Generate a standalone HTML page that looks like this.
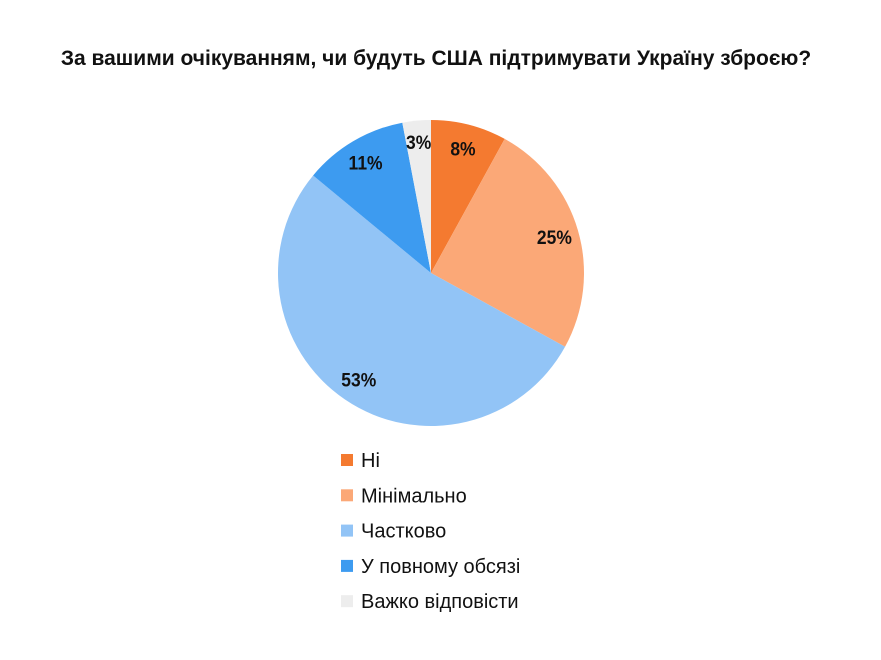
<!DOCTYPE html>
<html><head><meta charset="utf-8">
<style>
html,body{margin:0;padding:0;background:#fff;}
body{width:881px;height:655px;overflow:hidden;font-family:"Liberation Sans",sans-serif;}
</style></head>
<body>
<svg id="chart" width="881" height="655" xmlns="http://www.w3.org/2000/svg">
<text x="436" y="65" text-anchor="middle" font-family="Liberation Sans, sans-serif" font-weight="bold" font-size="21" fill="#111">За вашими очікуванням, чи будуть США підтримувати Україну зброєю?</text>
<g id="slices"></g>
<g id="labels"></g>
<g id="legend"></g>
</svg>
<script>
const categories = ["Ні","Мінімально","Частково","У повному обсязі","Важко відповісти"];
const values = [8,25,53,11,3];
const valueLabels = ["8%","25%","53%","11%","3%"];
const colors = ["#F47A30","#FBA877","#92C4F6","#3D9BF0","#EDEDED"];
const NS="http://www.w3.org/2000/svg";
const cx=431, cy=273, r=153;
const total=values.reduce((a,b)=>a+b,0);
function pt(frac,rad){const a=frac*2*Math.PI-Math.PI/2;return [cx+rad*Math.cos(a),cy+rad*Math.sin(a)];}
const sg=document.getElementById('slices'), lg=document.getElementById('labels'), leg=document.getElementById('legend');
let acc=0;
values.forEach((v,i)=>{
  const f0=acc/total, f1=(acc+v)/total; acc+=v;
  const [x0,y0]=pt(f0,r),[x1,y1]=pt(f1,r);
  const large=(f1-f0)>0.5?1:0;
  const p=document.createElementNS(NS,'path');
  p.setAttribute('d',`M${cx},${cy}L${x0},${y0}A${r},${r} 0 ${large} 1 ${x1},${y1}Z`);
  p.setAttribute('fill',colors[i]);
  
  
  sg.appendChild(p);
  const rl = v<5 ? r*0.86 : r*0.84;
  const [lx,ly]=pt((f0+f1)/2,rl);
  const t=document.createElementNS(NS,'text');
  t.setAttribute('x',lx);t.setAttribute('y',ly+7);
  t.setAttribute('text-anchor','middle');
  t.setAttribute('font-weight','bold');t.setAttribute('font-size','19');t.setAttribute('fill','#111');
  t.setAttribute('font-family','Liberation Sans, sans-serif');
  t.setAttribute('transform',`translate(${lx},0) scale(0.92,1) translate(${-lx},0)`);
  t.textContent=valueLabels[i];
  
  
  lg.appendChild(t);
  const y=460+i*35.3;
  const s=document.createElementNS(NS,'rect');
  s.setAttribute('x',341);s.setAttribute('y',y-6);s.setAttribute('width',12);s.setAttribute('height',12);s.setAttribute('fill',colors[i]);
  
  
  leg.appendChild(s);
  const lt=document.createElementNS(NS,'text');
  lt.setAttribute('x',361);lt.setAttribute('y',y+7);
  lt.setAttribute('font-size','20');lt.setAttribute('fill','#111');
  lt.setAttribute('font-family','Liberation Sans, sans-serif');
  lt.textContent=categories[i];
  
  
  leg.appendChild(lt);
});
</script>
</body></html>
